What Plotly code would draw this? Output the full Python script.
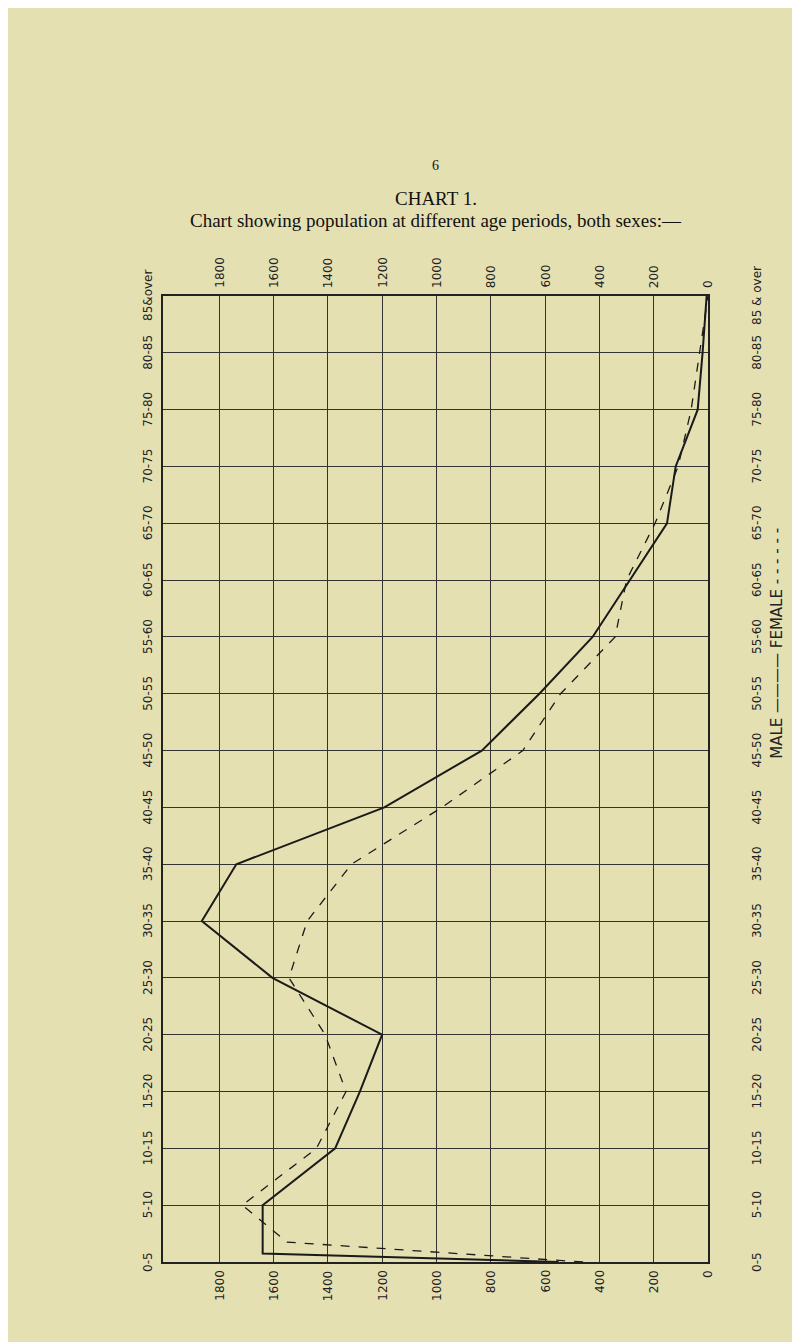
import plotly.graph_objects as go

# age groups, bottom (0-5) to top (85 & over)
ages = ["0-5", "5-10", "10-15", "15-20", "20-25", "25-30", "30-35", "35-40", "40-45",
        "45-50", "50-55", "55-60", "60-65", "65-70", "70-75", "75-80", "80-85", "85&over"]
right_ages = ages[:-1] + ["85 & over"]

# population, index 1 (5-10) upward
male = [1640, 1373, 1282, 1200, 1604, 1864, 1737, 1192, 833, 621, 425, 288, 151, 119, 38, 20, 5]
female = [1715, 1442, 1333, 1410, 1543, 1476, 1313, 980, 682, 543, 342, 300, 195, 110, 62, 32, 0]
# the 0-5 group runs along the bottom of the sheet
male_base = [550, 1640]
female_base = [460, 1550]

ticks = [1800, 1600, 1400, 1200, 1000, 800, 600, 400, 200, 0]

paper = "#e5e0b2"
fig = go.Figure()

fig.add_trace(go.Scatter(x=[male_base[0], male_base[1]] + male, y=[0, 0.15] + list(range(1, 18)),
                         mode="lines", line=dict(color="#1a1a1a", width=2)))
fig.add_trace(go.Scatter(x=[female_base[0], female_base[1]] + female, y=[0, 0.35] + list(range(1, 18)),
                         mode="lines", line=dict(color="#1a1a1a", width=1.3, dash="dash")))

ann = []
hand = dict(family="DejaVu Sans", size=12, color="#222")
for i, a in enumerate(ages):
    ann.append(dict(x=0, xref="paper", xanchor="right", xshift=-6, y=i, yref="y",
                    text=a, textangle=-90, showarrow=False, font=hand))
    ann.append(dict(x=1, xref="paper", xanchor="left", xshift=40, y=i, yref="y",
                    text=right_ages[i], textangle=-90, showarrow=False, font=hand))
for t in ticks:
    ann.append(dict(x=t, xref="x", y=1, yref="paper", yanchor="bottom", yshift=6,
                    text=str(t), textangle=-90, showarrow=False, font=hand))
    ann.append(dict(x=t, xref="x", y=0, yref="paper", yanchor="top", yshift=-6,
                    text=str(t), textangle=-90, showarrow=False, font=hand))
ann.append(dict(x=1, xref="paper", xanchor="left", xshift=58, y=0.64, yref="paper",
                text="MALE ———— FEMALE - - - - - -", textangle=-90, showarrow=False,
                font=dict(family="DejaVu Sans", size=15, color="#222")))
serif = dict(family="Liberation Serif", color="#111")
ann.append(dict(x=0.5, xref="paper", y=1, yref="paper", yshift=140, text="6",
                showarrow=False, font=dict(size=14, **serif)))
ann.append(dict(x=0.5, xref="paper", y=1, yref="paper", yshift=110, text="CHART 1.",
                showarrow=False, font=dict(size=19, **serif)))
ann.append(dict(x=0.5, xref="paper", y=1, yref="paper", yshift=88,
                text="Chart showing population at different age periods, both sexes:—",
                showarrow=False, font=dict(size=19, **serif)))

fig.update_layout(
    width=800, height=1342, showlegend=False,
    paper_bgcolor=paper, plot_bgcolor=paper,
    margin=dict(l=155, r=100, t=288, b=88),
    annotations=ann,
    xaxis=dict(range=[2007, 0], tickvals=ticks, showticklabels=False, showgrid=True,
               gridcolor="#333", gridwidth=1, zeroline=False, showline=True,
               linecolor="#222", linewidth=1.5, mirror=True),
    yaxis=dict(range=[0, 17], dtick=1, showticklabels=False, showgrid=True,
               gridcolor="#333", gridwidth=1, zeroline=False, showline=True,
               linecolor="#222", linewidth=1.5, mirror=True),
)
fig.write_html("out.html")
